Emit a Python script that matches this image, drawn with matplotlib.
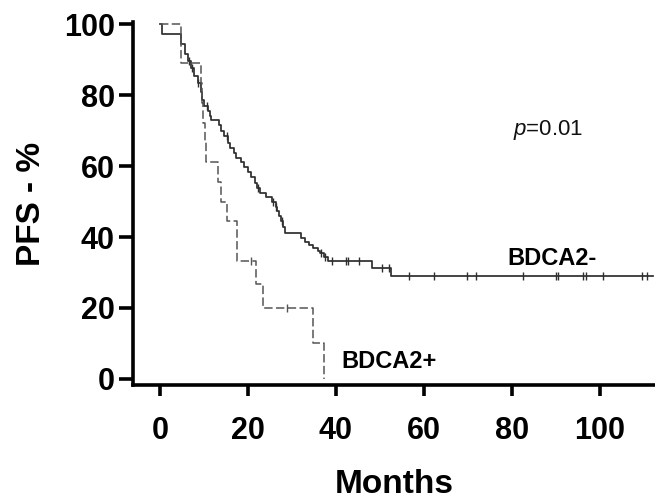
import numpy as np
import matplotlib
matplotlib.use("Agg")
import matplotlib.pyplot as plt

plt.rcParams["font.family"] = ["Liberation Sans", "DejaVu Sans"]
plt.rcParams["mathtext.fontset"] = "custom"
plt.rcParams["mathtext.it"] = "Liberation Sans:italic"
plt.rcParams["mathtext.rm"] = "Liberation Sans"

# BDCA2- : step times (months) and PFS (%) after each step
neg_t = [0, 0.5, 4.7, 5.7, 6.3, 7.0, 7.8, 8.6, 9.4, 9.6, 10.1, 10.9, 11.4, 11.7,
         13.5, 14.0, 14.5, 15.4, 16.0, 16.9, 17.4, 18.5, 19.2, 20.0, 20.8, 21.6,
         22.0, 22.8, 24.2, 25.5, 26.3, 26.7, 27.1, 27.6, 28.0, 28.4, 32.1, 33.0,
         34.0, 34.8, 36.0, 36.5, 37.2, 38.3, 48.1, 52.5]
neg_s = [100, 97.2, 94.4, 91.7, 89.5, 87.5, 85.5, 83.5, 81.0, 78.5, 77.0, 75.5,
         74.2, 73.0, 71.5, 70.0, 68.5, 66.5, 65.2, 63.8, 62.3, 61.2, 59.8, 58.4,
         56.8, 55.2, 53.8, 52.3, 51.2, 50.0, 48.5, 47.2, 46.0, 44.5, 42.8, 41.0,
         39.6, 38.7, 37.7, 36.8, 36.2, 35.4, 34.4, 33.3, 31.3, 29.0]
neg_end = 112
neg_cens = [6.6, 7.3, 8.7, 10.8, 15.2, 22.3, 25.8, 26.5, 27.7, 36.7, 37.5, 39.2,
            42.4, 42.8, 45.3, 50.4, 52.1, 56.6, 62.3, 69.8, 71.8, 82.6, 90.0,
            90.5, 96.2, 96.8, 100.6, 109.6, 110.6]

# BDCA2+
pos_t = [0, 4.9, 9.3, 9.6, 9.9, 10.2, 10.6, 13.3, 13.9, 15.2, 17.5, 21.8, 23.4,
         34.7, 37.3]
pos_s = [100, 88.9, 83.3, 77.8, 72.2, 66.7, 61.1, 55.6, 50.0, 44.4, 33.3, 26.7,
         20.0, 10.0, 0]
pos_cens = [20.8, 28.8]


def level_at(times, surv, x):
    idx = np.searchsorted(times, x, side="right") - 1
    return np.asarray(surv)[idx]


fig = plt.figure(figsize=(6.55, 5.03), dpi=100)
ax = fig.add_axes([0.203, 0.2346, 0.797, 0.7217])

ax.step(neg_t + [neg_end], neg_s + [neg_s[-1]], where="post",
        color="#2e2e2e", lw=1.25)
ax.plot(neg_cens, level_at(neg_t, neg_s, neg_cens), ls="none", marker="|",
        ms=6, mew=1.0, color="#2e2e2e")

ax.step(pos_t, pos_s, where="post", color="#555555", lw=1.1, dashes=(5.5, 2.2))
ax.plot(pos_cens, level_at(pos_t, pos_s, pos_cens), ls="none", marker="|",
        ms=6, mew=1.0, color="#555555")

ax.set_xlim(-6.1, 112.5)
ax.set_ylim(-1.7, 100.6)
ax.set_xticks(range(0, 101, 20))
ax.set_yticks(range(0, 101, 20))

for side in ("top", "right"):
    ax.spines[side].set_visible(False)
for side in ("left", "bottom"):
    ax.spines[side].set_linewidth(2.6)

ax.tick_params(axis="x", direction="out", length=8, width=2.6, pad=14,
               labelsize=22)
ax.tick_params(axis="y", direction="out", length=10, width=2.6, pad=3,
               labelsize=22)
for lab in ax.get_xticklabels() + ax.get_yticklabels():
    lab.set_fontweight("bold")

ax.set_xlabel("Months", fontsize=24, fontweight="bold", labelpad=17)
ax.set_ylabel("PFS - %", fontsize=24, fontweight="bold", labelpad=12)

ax.text(80.2, 68.8, r"$\mathit{p}$=0.01", fontsize=16, color="#111111")
ax.text(78.9, 32.1, "BDCA2-", fontsize=17, fontweight="bold")
ax.text(41.3, 3.1, "BDCA2+", fontsize=17, fontweight="bold")

fig.savefig("out.png", dpi=100)
